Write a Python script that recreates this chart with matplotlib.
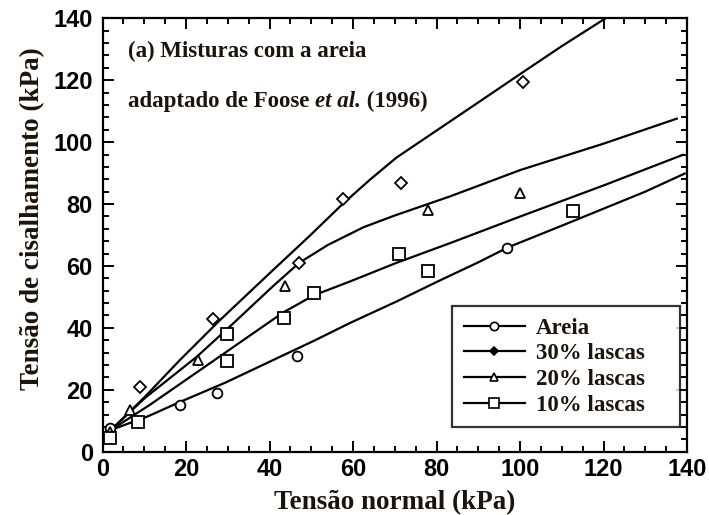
import matplotlib
matplotlib.use("Agg")
import matplotlib.pyplot as plt
from matplotlib.lines import Line2D
from matplotlib.ticker import MultipleLocator

# ---- data ----
series_names = ["Areia", "30% lascas", "20% lascas", "10% lascas"]

# fitted envelope curves
areia_cx = [2, 11, 18.6, 29.4, 40.7, 50.6, 59.3, 70.4, 80.3, 90.2, 97.1, 110, 120, 130, 139.7]
areia_cy = [7, 11.5, 16.1, 22.3, 29.5, 35.8, 41.6, 48.5, 55, 61.3, 66, 73, 78.5, 84, 90]
l30_cx = [2, 10.2, 18.6, 28.2, 40.7, 49.6, 57.5, 64, 70.4, 80.3, 90.2, 100.6, 110, 120.5]
l30_cy = [7, 17.8, 29.7, 42.6, 58.5, 69.7, 80, 87.8, 95, 104, 113, 122.5, 131, 140]
l20_cx = [2, 10.2, 22.6, 30.8, 40.7, 47.1, 54, 62.5, 70, 83.3, 100.1, 120, 137.8]
l20_cy = [7, 17.4, 30.7, 40.8, 53.3, 61, 66.8, 72.5, 76.3, 82.5, 91, 99.5, 107.7]
l10_cx = [2, 11.4, 29.4, 43.3, 50.6, 59.3, 70.4, 83.3, 100.1, 120, 139.2]
l10_cy = [7, 15.2, 32, 45, 50.5, 55, 61, 67.4, 76, 86, 96]

# measured points
areia_x = [1.9, 8.5, 18.6, 27.4, 46.5, 96.9]
areia_y = [7.5, 9.7, 15.2, 19, 30.9, 65.8]
l30_x = [9, 26.4, 47.1, 57.5, 71.4, 100.6]
l30_y = [21, 43, 61, 81.5, 86.8, 119.5]
l20_x = [1.9, 6.6, 22.9, 43.8, 78, 100.1]
l20_y = [6.5, 13.6, 29.5, 53.6, 78, 83.5]
l10_x = [1.9, 8.5, 29.8, 29.8, 43.4, 50.6, 71, 78, 112.7]
l10_y = [4.5, 9.7, 37.9, 29.3, 43.3, 51.4, 63.9, 58.4, 77.8]

x_ticks = [0, 20, 40, 60, 80, 100, 120, 140]
y_ticks = [0, 20, 40, 60, 80, 100, 120, 140]

# ---- figure ----
SERIF = ["Liberation Serif", "DejaVu Serif"]
SANS = ["Liberation Sans", "DejaVu Sans"]
TXT = "#1c140a"

fig = plt.figure(figsize=(7.09, 5.15), dpi=100)
ax = fig.add_axes([0.1446, 0.1229, 0.8244, 0.8416])

lw = 1.6
for cx, cy in [(areia_cx, areia_cy), (l30_cx, l30_cy), (l20_cx, l20_cy), (l10_cx, l10_cy)]:
    ax.plot(cx, cy, color="black", lw=lw, solid_capstyle="butt",
            solid_joinstyle="round")

mk = dict(linestyle="none", markerfacecolor="white", markeredgecolor="black",
          markeredgewidth=1.3, zorder=3)
ax.plot(areia_x, areia_y, marker="o", markersize=7, **mk)
ax.plot(l30_x, l30_y, marker="D", markersize=6, **mk)
ax.plot(l20_x, l20_y, marker="^", markersize=7, **mk)
ax.plot(l10_x, l10_y, marker="s", markersize=8, **mk)

ax.set_xlim(0, 140)
ax.set_ylim(0, 140)
ax.set_xticks(x_ticks)
ax.set_yticks(y_ticks)
ax.xaxis.set_minor_locator(MultipleLocator(5))
ax.yaxis.set_minor_locator(MultipleLocator(4))
ax.tick_params(which="both", direction="in", top=True, right=True, width=1.4,
               colors="black")
ax.tick_params(which="major", length=8, labelsize=17)
ax.tick_params(axis="x", which="major", pad=4.5)
ax.tick_params(axis="y", which="major", pad=7)
ax.tick_params(which="minor", length=4)
for lab in ax.get_xticklabels() + ax.get_yticklabels():
    lab.set_family(SANS)
    lab.set_fontweight("bold")
for sp in ax.spines.values():
    sp.set_linewidth(1.6)

ax.set_xlabel("Tensão normal (kPa)", family=SERIF, fontweight="bold",
              fontsize=19.5, color=TXT, labelpad=6.5)
ax.set_ylabel("Tensão de cisalhamento (kPa)", family=SERIF, fontweight="bold",
              fontsize=19.5, color=TXT)
ax.yaxis.set_label_coords(-0.098, 0.537)

# annotation
ax.text(0.0436, 0.911, "(a) Misturas com a areia", transform=ax.transAxes,
        family=SERIF, fontweight="bold", fontsize=16.5, color=TXT, va="baseline")
fig.canvas.draw()
r = fig.canvas.get_renderer()
t1 = ax.text(0.0436, 0.795, "adaptado de Foose ", transform=ax.transAxes,
             family=SERIF, fontweight="bold", fontsize=16.5, color=TXT, va="baseline")
bb = t1.get_window_extent(r)
x2 = ax.transAxes.inverted().transform((bb.x1, bb.y0))[0]
t2 = ax.text(x2, 0.795, "et al.", transform=ax.transAxes, family=SERIF,
             fontweight="bold", fontstyle="italic", fontsize=16.5, color=TXT,
             va="baseline")
bb2 = t2.get_window_extent(r)
x3 = ax.transAxes.inverted().transform((bb2.x1, bb2.y0))[0]
ax.text(x3, 0.795, " (1996)", transform=ax.transAxes, family=SERIF,
        fontweight="bold", fontsize=16.5, color=TXT, va="baseline")

# legend
hk = dict(color="black", lw=1.6, markeredgecolor="black", markeredgewidth=1.2)
handles = [
    Line2D([], [], marker="o", markersize=6, markerfacecolor="white", **hk),
    Line2D([], [], marker="D", markersize=4.5, markerfacecolor="black", **hk),
    Line2D([], [], marker="^", markersize=6, markerfacecolor="white", **hk),
    Line2D([], [], marker="s", markersize=6.5, markerfacecolor="white", **hk),
]
leg = ax.legend(handles, series_names, loc="lower left",
                bbox_to_anchor=(0.598, 0.057, 0.390, 0.3), mode="expand",
                borderaxespad=0,
                prop=dict(family=SERIF, weight="bold", size=16.5),
                frameon=True, fancybox=False, handlelength=2.7,
                handletextpad=0.45, labelspacing=0.2, borderpad=0.5,
                labelcolor=TXT)
leg.get_frame().set_edgecolor("black")
leg.get_frame().set_linewidth(1.6)

fig.savefig("out.png", dpi=100)
